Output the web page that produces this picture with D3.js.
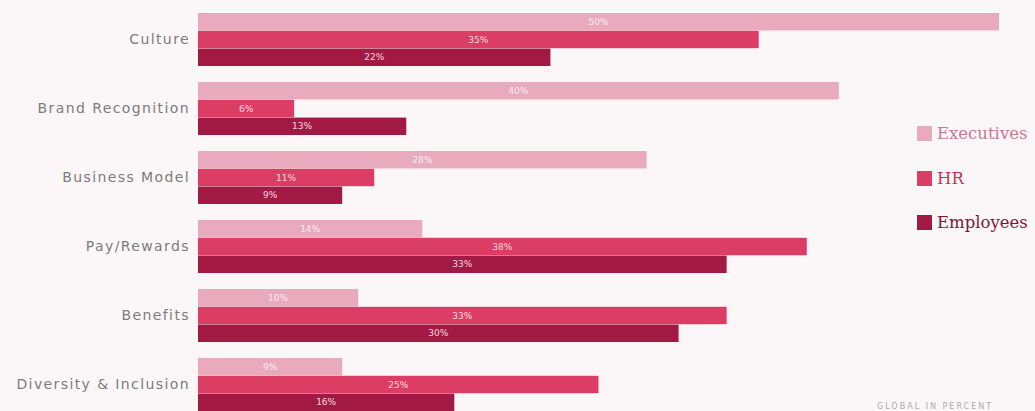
<!DOCTYPE html>
<html><head><meta charset="utf-8">
<script src="https://cdn.jsdelivr.net/npm/d3@7"></script>
<style>
html,body{margin:0;padding:0;background:#fbf6f8;overflow:hidden;}
svg{display:block;}
</style></head>
<body>
<svg id="chart" width="1035" height="411"></svg>
<script>
const categories = ["Culture","Brand Recognition","Business Model","Pay/Rewards","Benefits","Diversity & Inclusion"];
const seriesNames = ["Executives","HR","Employees"];
const executives = [50,40,28,14,10,9];
const hr = [35,6,11,38,33,25];
const employees = [22,13,9,33,30,16];
const colors = ["#e9aabd","#dc3d64","#a21a44"];
const legendColors = ["#c87a95","#c8325a","#7e1535"];
const footnote = "GLOBAL IN PERCENT";

const svg = d3.select("#chart");
const x = d3.scaleLinear().domain([0,50]).range([198, 999]);
const yb = d3.scaleBand().domain(categories).range([13, 13 + 69*6 - 16]).paddingInner(16/69).paddingOuter(0).align(0);
const sub = d3.scaleBand().domain(seriesNames).range([0, yb.bandwidth()]).paddingInner(0.02);

const data = categories.map((c,i)=>({cat:c, vals:[executives[i],hr[i],employees[i]]}));

const g = svg.append("g");
data.forEach(d=>{
  const gg = g.append("g").attr("transform",`translate(0,${yb(d.cat)})`);
  d.vals.forEach((v,j)=>{
    gg.append("rect").attr("x",x(0)).attr("y",sub(seriesNames[j]))
      .attr("width",x(v)-x(0)).attr("height",sub.bandwidth()).attr("fill",colors[j]);
    gg.append("text").attr("x",(x(0)+x(v))/2).attr("y",sub(seriesNames[j])+sub.bandwidth()/2)
      .attr("dy","0.35em").attr("text-anchor","middle")
      .attr("font-family","DejaVu Sans, sans-serif").attr("font-size",9)
      .attr("fill", j===0 ? "#fff4f7" : "#ffe6ee").attr("opacity",0.9)
      .text(v+"%");
  });
  g.append("text").attr("x",190).attr("y",yb(d.cat)+yb.bandwidth()/2)
    .attr("dy","0.35em").attr("text-anchor","end")
    .attr("font-family","DejaVu Sans, sans-serif").attr("font-size",14)
    .attr("letter-spacing","1.4px").attr("fill","#7c7c7c").text(d.cat);
});

const legendY = [133,178,222];
seriesNames.forEach((s,i)=>{
  svg.append("rect").attr("x",917).attr("y",legendY[i]-7).attr("width",15).attr("height",15).attr("fill",colors[i]);
  svg.append("text").attr("x",937).attr("y",legendY[i]).attr("dy","0.35em")
    .attr("font-family","DejaVu Serif, serif").attr("font-size",16.5)
    .attr("fill",legendColors[i]).text(s);
});

svg.append("text").attr("x",877).attr("y",409).attr("font-family","DejaVu Sans, sans-serif")
  .attr("font-size",8).attr("letter-spacing","2px").attr("fill","#aaa").text(footnote);
</script>
</body></html>
